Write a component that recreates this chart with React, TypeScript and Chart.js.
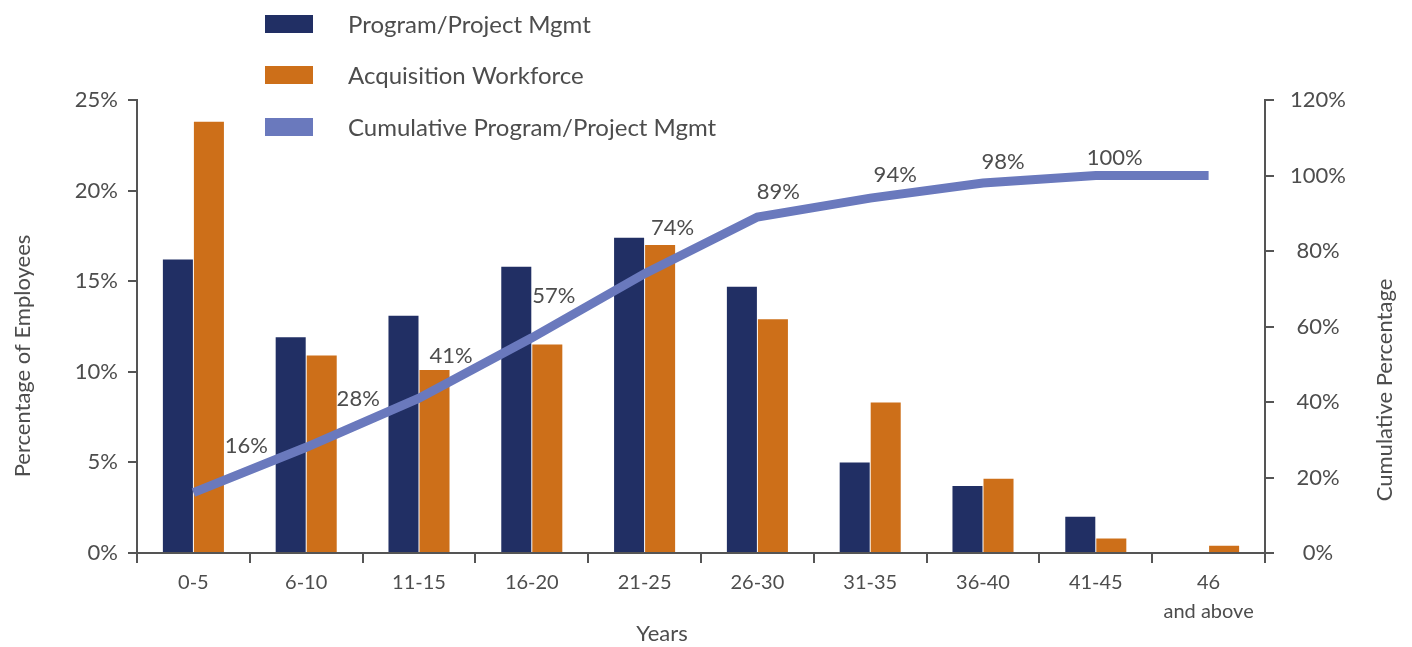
import React, { useEffect, useRef } from "react";
import { Chart, registerables } from "chart.js";

Chart.register(...registerables);

const categories: (string | string[])[] = [
  "0-5", "6-10", "11-15", "16-20", "21-25", "26-30", "31-35", "36-40", "41-45", ["46", "and above"],
];
const programMgmt = [16.2, 11.9, 13.1, 15.8, 17.4, 14.7, 5.0, 3.7, 2.0, 0];
const acquisitionWorkforce = [23.8, 10.9, 10.1, 11.5, 17.0, 12.9, 8.3, 4.1, 0.8, 0.4];
const cumulativeProgram = [16, 28, 41, 57, 74, 89, 94, 98, 100, 100];

const seriesNames = ["Program/Project Mgmt", "Acquisition Workforce", "Cumulative Program/Project Mgmt"];
const axisTitles = { left: "Percentage of Employees", right: "Cumulative Percentage", x: "Years" };

const NAVY = "#212f64";
const ORANGE = "#cd6f19";
const LINE = "#6a79bd";
const TEXT = "#4d4d4d";
const AXIS = "#555555";
const FONT = "Lato, 'Open Sans', sans-serif";

// label offsets relative to each line point (style only)
const labelOffsets: [number, number][] = [
  [53, -47], [52, -48], [32, -42], [22, -42], [28, -46], [21, -25], [25, -23], [20, -21], [19, -18],
];

const customDraw = {
  id: "customDraw",
  afterDraw(chart: any) {
    const ctx = chart.ctx;
    ctx.save();
    // data labels on cumulative line
    const lineIdx = chart.data.datasets.findIndex((d: any) => d.type === "line");
    const meta = chart.getDatasetMeta(lineIdx);
    const values = chart.data.datasets[lineIdx].data;
    ctx.font = `22px ${FONT}`;
    ctx.fillStyle = TEXT;
    ctx.textAlign = "center";
    ctx.textBaseline = "middle";
    meta.data.forEach((pt: any, i: number) => {
      const off = labelOffsets[i];
      if (!off) return;
      ctx.fillText(`${values[i]}%`, pt.x + off[0], pt.y + off[1]);
    });

    // legend
    const colors = [NAVY, ORANGE, LINE];
    const baselines = [33, 84, 136];
    ctx.font = `24px ${FONT}`;
    ctx.textAlign = "left";
    ctx.textBaseline = "alphabetic";
    chart.data.datasets.forEach((ds: any) => {
      const idx = ds.legendIndex;
      ctx.fillStyle = colors[idx];
      ctx.fillRect(265, baselines[idx] - 18, 48, 18);
      ctx.fillStyle = TEXT;
      ctx.fillText(ds.label, 348, baselines[idx]);
    });

    // axis titles
    ctx.font = `22px ${FONT}`;
    ctx.fillStyle = TEXT;
    ctx.textAlign = "center";
    ctx.textBaseline = "middle";
    ctx.save();
    ctx.translate(23, 356);
    ctx.rotate(-Math.PI / 2);
    ctx.fillText(axisTitles.left, 0, 0);
    ctx.restore();
    ctx.save();
    ctx.translate(1385, 390);
    ctx.rotate(-Math.PI / 2);
    ctx.fillText(axisTitles.right, 0, 0);
    ctx.restore();
    ctx.fillText(axisTitles.x, 662, 634);
    ctx.restore();
  },
};

export default function App() {
  const ref = useRef<HTMLCanvasElement | null>(null);
  useEffect(() => {
    if (!ref.current) return;
    const chart = new Chart(ref.current, {
      type: "bar",
      data: {
        labels: categories,
        datasets: [
          {
            type: "line",
            label: seriesNames[2],
            legendIndex: 2,
            data: cumulativeProgram,
            yAxisID: "y1",
            borderColor: LINE,
            backgroundColor: LINE,
            borderWidth: 9,
            pointRadius: 0,
            tension: 0,
            borderCapStyle: "butt",
            borderJoinStyle: "miter",
            order: 0,
          } as any,
          {
            type: "bar",
            label: seriesNames[0],
            legendIndex: 0,
            data: programMgmt,
            yAxisID: "y",
            backgroundColor: NAVY,
            categoryPercentage: 0.55,
            barPercentage: 0.968,
            order: 1,
          } as any,
          {
            type: "bar",
            label: seriesNames[1],
            legendIndex: 1,
            data: acquisitionWorkforce,
            yAxisID: "y",
            backgroundColor: ORANGE,
            categoryPercentage: 0.55,
            barPercentage: 0.968,
            order: 1,
          } as any,
        ],
      },
      options: {
        animation: false,
        responsive: false,
        devicePixelRatio: 1,
        layout: { padding: { top: 100, left: 0, right: 0, bottom: 0 } },
        plugins: { legend: { display: false }, tooltip: { enabled: false } },
        scales: {
          x: {
            type: "category",
            position: "bottom",
            offset: true,
            grid: { offset: true, drawOnChartArea: false, drawTicks: true, tickLength: 10, color: AXIS, lineWidth: 2 },
            border: { display: true, color: AXIS, width: 2 },
            ticks: { font: { family: FONT, size: 20, lineHeight: 1.45 }, color: TEXT, padding: 5, maxRotation: 0, autoSkip: false },
            afterFit: (s: any) => { s.height = 94; },
          },
          y: {
            position: "left",
            min: 0,
            max: 25,
            grid: { drawOnChartArea: false, drawTicks: true, tickLength: 9, color: AXIS, lineWidth: 2 },
            border: { display: true, color: AXIS, width: 2 },
            ticks: { stepSize: 5, padding: 10, font: { family: FONT, size: 22 }, color: TEXT, callback: (v: any) => `${v}%` },
            afterFit: (s: any) => { s.width = 137; },
          },
          y1: {
            position: "right",
            min: 0,
            max: 120,
            grid: { drawOnChartArea: false, drawTicks: true, tickLength: 9, color: AXIS, lineWidth: 2 },
            border: { display: true, color: AXIS, width: 2 },
            ticks: { stepSize: 20, padding: 16, crossAlign: "center", font: { family: FONT, size: 22 }, color: TEXT, callback: (v: any) => `${v}%` },
            afterFit: (s: any) => { s.width = 147; },
          },
        },
      } as any,
      plugins: [customDraw],
    });
    document.fonts?.load(`22px Lato`).then(() => chart.update()).catch(() => {});
    return () => chart.destroy();
  }, []);
  return (
    <div style={{ position: "absolute", left: 0, top: 0, width: 1412, height: 647, background: "#fff" }}>
      <canvas ref={ref} width={1412} height={647} style={{ display: "block", width: 1412, height: 647 }} />
    </div>
  );
}
